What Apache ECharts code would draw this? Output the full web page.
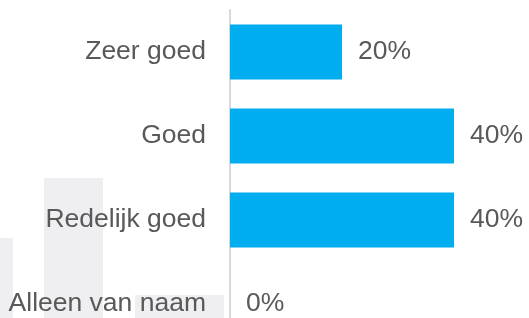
<!DOCTYPE html>
<html>
<head>
<meta charset="utf-8">
<script src="https://cdn.jsdelivr.net/npm/echarts@6/dist/echarts.min.js"></script>
<style>
  html, body { margin: 0; padding: 0; background: #fff; }
  #chart { width: 529px; height: 318px; }
</style>
</head>
<body>
<div id="chart"></div>
<script>
// Data
var categories = ['Zeer goed', 'Goed', 'Redelijk goed', 'Alleen van naam'];
var percentages = [20, 40, 40, 0];

var myChart = echarts.init(document.getElementById('chart'));

var textColor = '#595959';
var font = 'Liberation Sans, Arial, sans-serif';

var option = {
    animation: false,
    // light grey blocks in the background
    graphic: [
        { type: 'rect', z: -10, shape: { x: 44, y: 178, width: 59, height: 140 }, style: { fill: '#efeef1' } },
        { type: 'rect', z: -10, shape: { x: 0, y: 238, width: 13, height: 80 }, style: { fill: '#efeef1' } },
        { type: 'rect', z: -10, shape: { x: 135, y: 295, width: 89, height: 23 }, style: { fill: '#efeef1' } }
    ],
    grid: {
        left: 230,
        right: 19,
        top: 10,
        height: 336,
        outerBoundsMode: 'none'
    },
    xAxis: {
        type: 'value',
        min: 0,
        max: 50,
        show: false
    },
    yAxis: {
        type: 'category',
        inverse: true,
        data: categories,
        axisLine: { show: true, lineStyle: { color: '#d9d9d9', width: 2 } },
        axisTick: { show: false },
        axisLabel: {
            margin: 24,
            fontSize: 26.5,
            color: textColor,
            fontFamily: font
        }
    },
    series: [{
        type: 'bar',
        data: percentages,
        barWidth: 55,
        itemStyle: { color: '#00adef' },
        label: {
            show: true,
            position: 'right',
            distance: 16,
            formatter: '{c}%',
            fontSize: 26.5,
            color: textColor,
            fontFamily: font
        }
    }]
};

myChart.setOption(option);
</script>
</body>
</html>
